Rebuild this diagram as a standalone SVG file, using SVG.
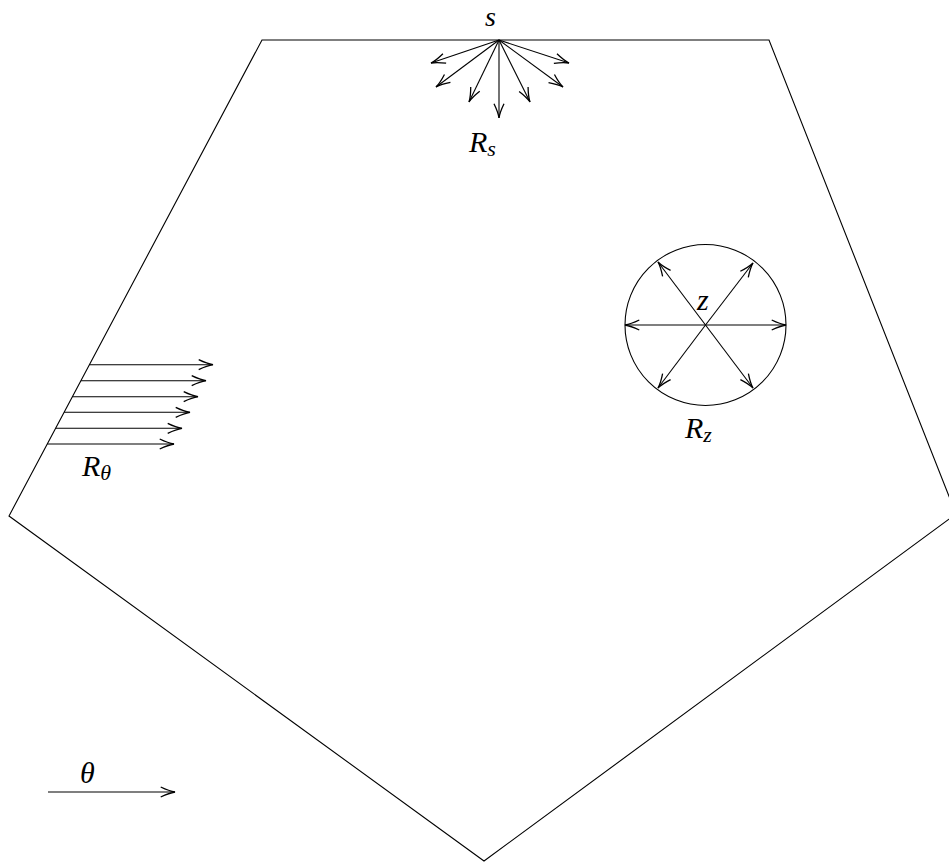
<svg xmlns="http://www.w3.org/2000/svg" width="949" height="863" viewBox="0 0 949 863">
<defs>
<style>
.ln{stroke:#000;stroke-width:1.1;fill:none}
.ar{stroke:#000;stroke-width:1.1;fill:none;marker-end:url(#ah)}
.m{font-family:"Liberation Serif","DejaVu Serif",serif;font-style:italic;font-size:30px;fill:#000}
.sub{font-size:22px}
</style>
<marker id="ah" markerUnits="userSpaceOnUse" markerWidth="20" markerHeight="20" refX="0" refY="0" viewBox="-12 -6 14 12" orient="auto" overflow="visible">
<path d="M -10,-3.5 Q -4,-0.6 0,0 Q -4,0.6 -10,3.5" stroke="#000" stroke-width="0.9" fill="none"/>
</marker>
</defs>
<rect width="949" height="863" fill="#fff"/>
<g id="pentagon">
<polygon class="ln" points="262,40 769,40 956,514 484,861 9,516"/>
</g>
<g id="connectors">
<line class="ar" x1="499" y1="40" x2="431" y2="63"/>
<line class="ar" x1="499" y1="40" x2="436" y2="87"/>
<line class="ar" x1="499" y1="40" x2="469" y2="102"/>
<line class="ar" x1="499" y1="40" x2="499" y2="118"/>
<line class="ar" x1="499" y1="40" x2="530" y2="102"/>
<line class="ar" x1="499" y1="40" x2="563" y2="87"/>
<line class="ar" x1="499" y1="40" x2="569" y2="63"/>
<line class="ar" x1="705.5" y1="325" x2="625" y2="325"/>
<line class="ar" x1="705.5" y1="325" x2="786" y2="325"/>
<line class="ar" x1="705.5" y1="325" x2="658" y2="262"/>
<line class="ar" x1="705.5" y1="325" x2="753" y2="263"/>
<line class="ar" x1="705.5" y1="325" x2="658" y2="388"/>
<line class="ar" x1="705.5" y1="325" x2="753" y2="388"/>
<line class="ar" x1="89.4" y1="364.7" x2="213" y2="364.7"/>
<line class="ar" x1="80.9" y1="380.7" x2="206" y2="380.7"/>
<line class="ar" x1="72.4" y1="396.7" x2="198" y2="396.7"/>
<line class="ar" x1="64.1" y1="412.3" x2="190" y2="412.3"/>
<line class="ar" x1="55.6" y1="428.3" x2="182" y2="428.3"/>
<line class="ar" x1="47.3" y1="444" x2="174" y2="444"/>
<line class="ar" x1="48" y1="792" x2="175" y2="792"/>
</g>
<g id="circle">
<circle class="ln" cx="705.5" cy="325" r="80.5"/>
</g>
<g id="labels">
<text class="m" x="485" y="26" style="font-size:28px">s</text>
<text class="m" x="469" y="152">R<tspan class="sub" dy="4">s</tspan></text>
<text class="m" x="697" y="310">z</text>
<text class="m" x="685" y="438">R<tspan class="sub" dy="4">z</tspan></text>
<text class="m" x="82" y="476">R<tspan class="sub" dy="4">θ</tspan></text>
<text class="m" x="80" y="783">θ</text>
</g>
</svg>
